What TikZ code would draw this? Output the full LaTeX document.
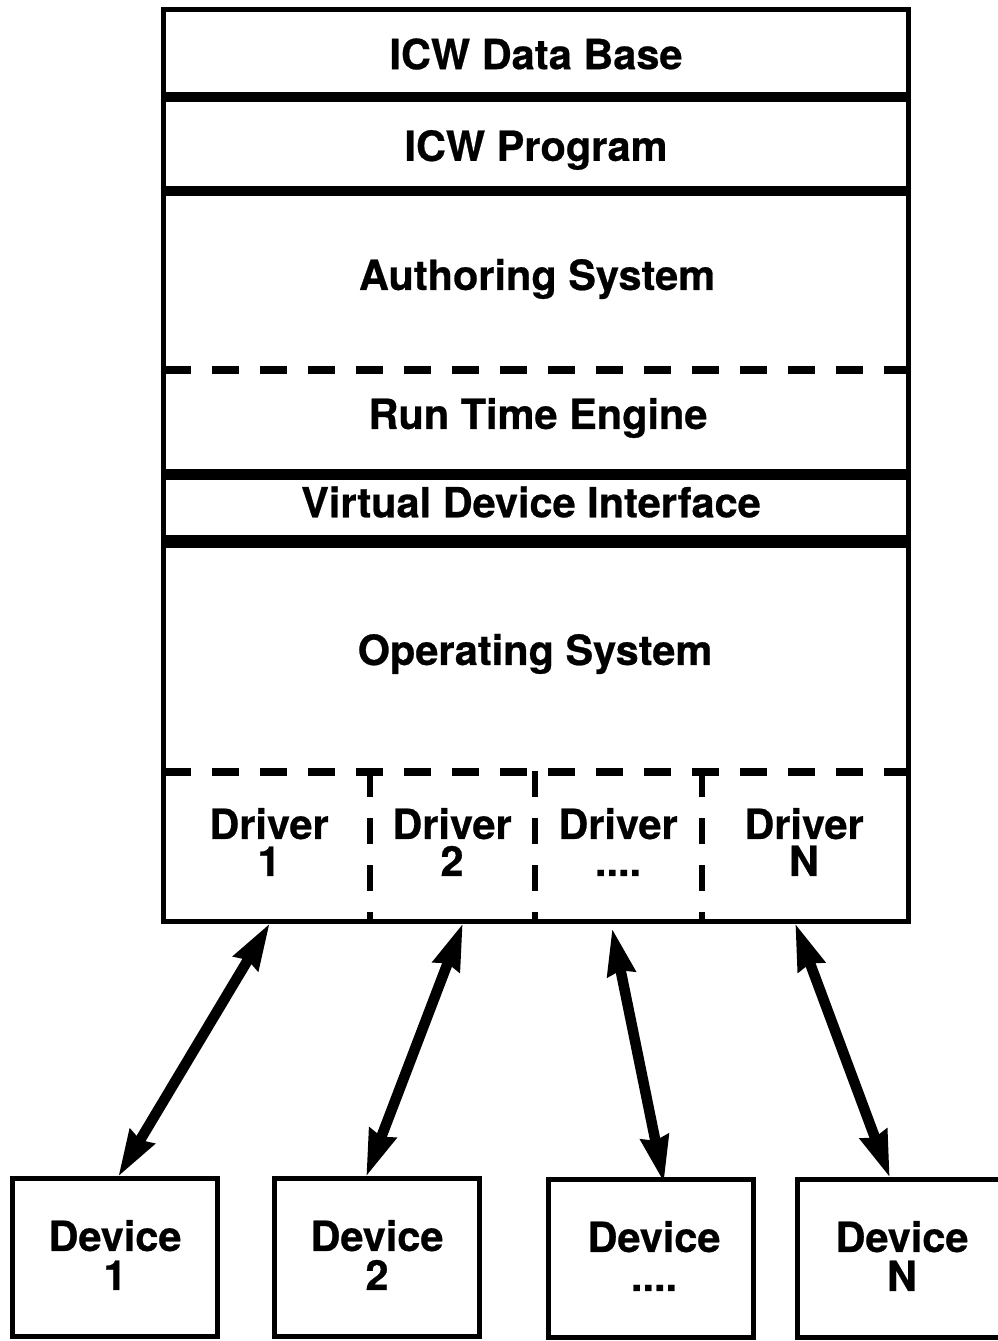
\documentclass[tikz,border=0pt]{standalone}
\usepackage{fontspec}
\setmainfont{TeX Gyre Heros}[BoldFeatures={FakeBold=0.6}]
\usetikzlibrary{arrows.meta}
\tikzset{
  x=1pt,y=-1pt,
  lbl/.style={inner sep=0pt,font=\fontsize{41.5}{41.5}\selectfont\bfseries,align=center,text=black},
  drvlbl/.style={lbl,font=\fontsize{41.5}{37}\selectfont\bfseries},
  devlbl/.style={lbl,font=\fontsize{41.5}{39}\selectfont\bfseries},
  dev/.style={draw=black,line width=4.5pt,fill=white,minimum width=205pt,minimum height=158pt,inner sep=0pt,anchor=north west},
  frame/.style={draw=black,line width=4.5pt,fill=white,inner sep=0pt,minimum width=745pt,minimum height=912pt},
  bar/.style={line width=#1,black},
  hdash/.style={line width=8pt,dash pattern=on 27pt off 21pt,black},
  vdash/.style={line width=6.5pt,dash pattern=on 26pt off 21pt,black},
  link/.style={line width=10.5pt,black,{Stealth[length=46pt,width=27pt,inset=3pt]}-{Stealth[length=46pt,width=27pt,inset=3pt]}}
}
\begin{document}
\begin{tikzpicture}
\useasboundingbox (0,0) rectangle (997,1341);
% stack frame
\node[frame,anchor=north west] (stack) at (161,7) {};
% thick separators
\coordinate (b1l) at (163,97); \coordinate (b1r) at (908,97);
\coordinate (b2l) at (163,191); \coordinate (b2r) at (908,191);
\coordinate (b3l) at (163,474); \coordinate (b3r) at (908,474);
\coordinate (b4l) at (163,541); \coordinate (b4r) at (908,541);
\draw[bar=10pt] (b1l) -- (b1r);
\draw[bar=10pt] (b2l) -- (b2r);
\draw[bar=11pt] (b3l) -- (b3r);
\draw[bar=13pt] (b4l) -- (b4r);
% dashed separators
\coordinate (d1l) at (163,370); \coordinate (d1r) at (908,370);
\coordinate (d2l) at (163,772); \coordinate (d2r) at (908,772);
\draw[hdash,dash phase=-1pt] (d1l) -- (d1r);
\draw[hdash,dash phase=-1pt] (d2l) -- (d2r);
% driver separators
\foreach \n/\x in {a/370,b/535,c/702}{
  \coordinate (v\n t) at (\x,771);
  \coordinate (v\n b) at (\x,921);
  \draw[vdash] (v\n t) -- (v\n b);
}
% stack labels
\node[lbl] (icwdb) at (536,54) {ICW Data Base};
\node[lbl] (icwpr) at (536,150) {ICW Program};
\node[lbl] (auth) at (537,279) {Authoring System};
\node[lbl] (rte) at (538,418) {Run Time Engine};
\node[lbl] (vdi) at (531,502) {Virtual Device Interface};
\node[lbl] (os) at (535,654) {Operating System};
\node[drvlbl] (dr1) at (269,842) {Driver\\1};
\node[drvlbl] (dr2) at (452,842) {Driver\\2};
\node[drvlbl] (dr3) at (618,842) {Driver\\....};
\node[drvlbl] (dr4) at (804,842) {Driver\\N};
% devices
\node[dev] (dev1) at (10,1176) {};
\node[dev] (dev2) at (272,1176) {};
\node[dev] (dev3) at (546,1177) {};
\node[dev] (dev4) at (795,1177) {};
\node[devlbl] (de1) at (115,1255) {Device\\1};
\node[devlbl] (de2) at (377,1255) {Device\\2};
\node[devlbl] (de3) at (654,1256) {Device\\....};
\node[devlbl] (de4) at (902,1256) {Device\\N};
% arrows
\coordinate (s1) at (270,923); \coordinate (e1) at (118,1177);
\coordinate (s2) at (463,923); \coordinate (e2) at (366,1177);
\coordinate (s3) at (612,928); \coordinate (e3) at (664,1183);
\coordinate (s4) at (795,923); \coordinate (e4) at (890,1178);
\draw[link] (s1) -- (e1);
\draw[link] (s2) -- (e2);
\draw[link] (s3) -- (e3);
\draw[link] (s4) -- (e4);
\end{tikzpicture}
\end{document}
